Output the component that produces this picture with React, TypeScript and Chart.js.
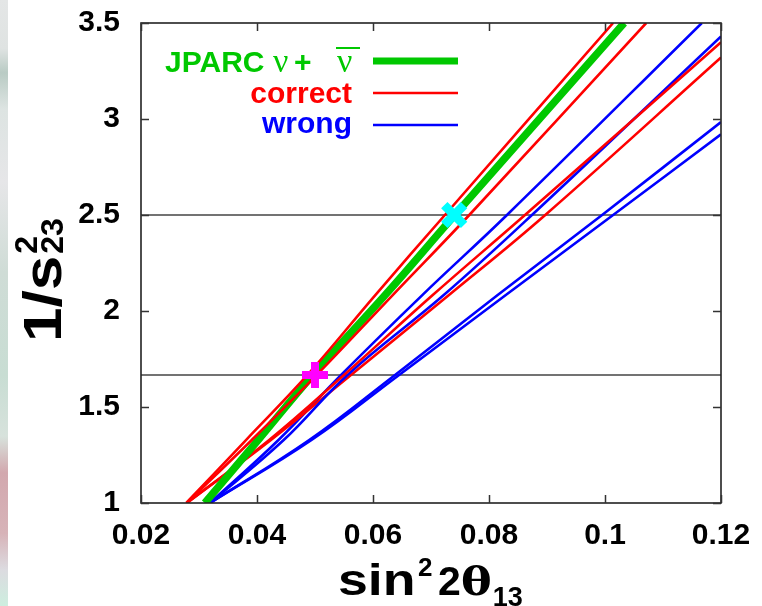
import { useEffect, useRef } from "react";
import { Chart, registerables } from "chart.js";
Chart.register(...registerables);

// ---- axis ticks ----
const xTicks = [0.02, 0.04, 0.06, 0.08, 0.1, 0.12];
const xTickLabels = ["0.02", "0.04", "0.06", "0.08", "0.1", "0.12"];
const yTicks = [1, 1.5, 2, 2.5, 3, 3.5];
const yTickLabels = ["1", "1.5", "2", "2.5", "3", "3.5"];

// ---- JPARC nu + nubar (green, thick) ----
const greenX = [0.031, 0.0402, 0.0496, 0.0621, 0.0741, 0.1033];
const greenY = [1, 1.328, 1.667, 2.083, 2.5, 3.5];

// ---- correct hierarchy (red) ----
const redAX = [0.0278, 0.0381, 0.0487, 0.0604, 0.0724, 0.1014];
const redAY = [1, 1.328, 1.667, 2.083, 2.5, 3.5];
const redBX = [0.0279, 0.0391, 0.0503, 0.0634, 0.0766, 0.1071];
const redBY = [1, 1.328, 1.667, 2.083, 2.5, 3.5];
const redCX = [0.0279, 0.0421, 0.055, 0.0703, 0.0862, 0.12];
const redCY = [1, 1.328, 1.667, 2.083, 2.5, 3.4];
const redDX = [0.0279, 0.0424, 0.0562, 0.0731, 0.0897, 0.12];
const redDY = [1, 1.328, 1.667, 2.083, 2.5, 3.32];

// ---- wrong hierarchy (blue) ----
const blue1X = [0.0319, 0.0437, 0.0545, 0.0685, 0.0831, 0.1167];
const blue1Y = [1, 1.328, 1.667, 2.083, 2.5, 3.5];
const blue2X = [0.0319, 0.0446, 0.0556, 0.0722, 0.0874, 0.12];
const blue2Y = [1, 1.328, 1.667, 2.083, 2.5, 3.43];
const blue3X = [0.0319, 0.049, 0.0638, 0.0815, 0.0995, 0.12];
const blue3Y = [1, 1.328, 1.667, 2.083, 2.5, 2.984];
const blue4X = [0.0319, 0.0494, 0.0645, 0.0829, 0.1014, 0.12];
const blue4Y = [1, 1.328, 1.667, 2.083, 2.5, 2.92];

// ---- reference levels and markers ----
const refLevels = [2.5, 1.667];
const refXRange = [0.02, 0.12];
const magentaPoint = { x: 0.05, y: 1.667 };
const cyanPoint = { x: 0.074, y: 2.5 };

const GREEN = "#00c800";
const RED = "#ff0000";
const BLUE = "#0000ff";
const SANS = '"Liberation Sans", Arial, Helvetica, sans-serif';
const SERIF = '"Liberation Serif", "Times New Roman", serif';
const DSERIF = '"DejaVu Serif", serif';

const pts = (xs: number[], ys: number[]) => xs.map((x, i) => ({ x, y: ys[i] }));

function lineDs(xs: number[], ys: number[], color: string, width: number, order: number) {
  return {
    data: pts(xs, ys),
    showLine: true,
    borderColor: color,
    backgroundColor: color,
    borderWidth: width,
    pointRadius: 0,
    tension: 0.4,
    clip: 0,
    order,
  };
}

function stretchText(ctx: CanvasRenderingContext2D, text: string, x: number, y: number, sx: number) {
  ctx.save();
  ctx.translate(x, y);
  ctx.scale(sx, 1);
  ctx.fillText(text, 0, 0);
  const w = ctx.measureText(text).width * sx;
  ctx.restore();
  return w;
}

const framePlugin = {
  id: "frameAndText",
  afterDatasetsDraw(chart: any) {
    const ctx: CanvasRenderingContext2D = chart.ctx;
    const { left, right, top, bottom } = chart.chartArea;
    const xs = chart.scales.x;
    const ys = chart.scales.y;
    ctx.save();
    // frame
    ctx.strokeStyle = "#222";
    ctx.lineWidth = 1.6;
    ctx.strokeRect(left, top, right - left, bottom - top);
    // inward ticks
    ctx.lineWidth = 1.5;
    ctx.strokeStyle = "#333";
    const tl = 8;
    ctx.beginPath();
    xTicks.forEach((v) => {
      const px = Math.round(xs.getPixelForValue(v)) + 0.5;
      ctx.moveTo(px, bottom);
      ctx.lineTo(px, bottom - tl);
      ctx.moveTo(px, top);
      ctx.lineTo(px, top + tl);
    });
    yTicks.forEach((v) => {
      const py = Math.round(ys.getPixelForValue(v)) + 0.5;
      ctx.moveTo(left, py);
      ctx.lineTo(left + tl, py);
      ctx.moveTo(right, py);
      ctx.lineTo(right - tl, py);
    });
    ctx.stroke();

    // legend
    ctx.textBaseline = "alphabetic";
    ctx.textAlign = "left";
    ctx.fillStyle = GREEN;
    ctx.font = `bold 30px ${SANS}`;
    ctx.fillText("JPARC", 165, 72);
    ctx.font = `34px ${SERIF}`;
    ctx.fillText("\u03bd", 273, 72);
    ctx.font = `bold 30px ${SANS}`;
    ctx.fillText("+", 294, 72);
    ctx.font = `34px ${SERIF}`;
    ctx.fillText("\u03bd", 337, 72);
    ctx.fillRect(336, 47, 24, 2);

    ctx.textAlign = "right";
    ctx.font = `bold 30px ${SANS}`;
    ctx.fillStyle = RED;
    ctx.fillText("correct", 352, 103);
    ctx.fillStyle = BLUE;
    ctx.fillText("wrong", 352, 133);

    ctx.lineCap = "butt";
    ctx.strokeStyle = GREEN;
    ctx.lineWidth = 7;
    ctx.beginPath();
    ctx.moveTo(373, 61);
    ctx.lineTo(458, 61);
    ctx.stroke();
    ctx.strokeStyle = RED;
    ctx.lineWidth = 2.4;
    ctx.beginPath();
    ctx.moveTo(373, 93);
    ctx.lineTo(458, 93);
    ctx.stroke();
    ctx.strokeStyle = BLUE;
    ctx.beginPath();
    ctx.moveTo(373, 125);
    ctx.lineTo(458, 125);
    ctx.stroke();

    // x axis title: sin^2 2θ_13
    ctx.textAlign = "left";
    ctx.fillStyle = "#000";
    ctx.font = `bold 44px ${SANS}`;
    stretchText(ctx, "sin", 338, 595, 1.22);
    ctx.font = `bold 26px ${SANS}`;
    ctx.fillText("2", 418, 576);
    ctx.font = `bold 41px ${SANS}`;
    ctx.fillText("2", 438, 595);
    ctx.font = `bold 40px ${DSERIF}`;
    const tw = stretchText(ctx, "\u03b8", 461, 595, 1.15);
    ctx.font = `bold 27px ${SANS}`;
    ctx.fillText("13", 461 + tw + 1, 606);

    // y axis title: 1/s^2_23
    ctx.save();
    ctx.translate(61, 342);
    ctx.rotate(-Math.PI / 2);
    ctx.font = `bold 54px ${SANS}`;
    const w = stretchText(ctx, "1/s", 0, 0, 1.15);
    ctx.font = `bold 32px ${SANS}`;
    ctx.fillText("2", w + 2, -24);
    ctx.fillText("23", w + 2, 2);
    ctx.restore();

    ctx.restore();
  },
};

export default function App() {
  const ref = useRef<HTMLCanvasElement | null>(null);
  useEffect(() => {
    if (!ref.current) return;
    const datasets: any[] = [
      {
        data: [magentaPoint],
        pointStyle: "cross",
        pointRadius: 13,
        borderWidth: 8,
        borderColor: "#ff00ff",
        backgroundColor: "#ff00ff",
        showLine: false,
        clip: false,
        order: 0,
      },
      {
        data: [cyanPoint],
        pointStyle: "crossRot",
        pointRadius: 14,
        borderWidth: 9,
        borderColor: "#00ffff",
        backgroundColor: "#00ffff",
        showLine: false,
        clip: false,
        order: 1,
      },
      lineDs(redAX, redAY, RED, 2.6, 2),
      lineDs(redBX, redBY, RED, 2.6, 3),
      lineDs(greenX, greenY, GREEN, 7.5, 4),
      lineDs(redCX, redCY, RED, 2.6, 5),
      lineDs(blue2X, blue2Y, BLUE, 2.6, 6),
      lineDs(redDX, redDY, RED, 2.6, 7),
      lineDs(blue1X, blue1Y, BLUE, 2.6, 8),
      lineDs(blue3X, blue3Y, BLUE, 2.6, 9),
      lineDs(blue4X, blue4Y, BLUE, 2.6, 10),
      ...refLevels.map((lv, i) => ({
        data: refXRange.map((x) => ({ x, y: lv })),
        showLine: true,
        borderColor: "#444",
        borderWidth: 1.5,
        pointRadius: 0,
        clip: 0,
        order: 20 + i,
      })),
    ];
    const chart = new Chart(ref.current, {
      type: "scatter",
      data: { datasets },
      options: {
        responsive: false,
        animation: false,
        events: [],
        layout: { padding: { left: 0, top: 23, right: 41, bottom: 0 } },
        plugins: { legend: { display: false }, tooltip: { enabled: false } },
        scales: {
          x: {
            type: "linear",
            min: 0.02,
            max: 0.12,
            afterFit: (s: any) => {
              s.height = 103;
              s.paddingLeft = 0;
              s.paddingRight = 0;
            },
            afterBuildTicks: (s: any) => {
              s.ticks = xTicks.map((v) => ({ value: v }));
            },
            ticks: {
              callback: (_v: any, i: number) => xTickLabels[i],
              font: { family: SANS, size: 30, weight: "bold" },
              color: "#000",
              padding: 15,
              maxRotation: 0,
              autoSkip: false,
            },
            grid: { display: false, drawTicks: false },
            border: { display: false },
          },
          y: {
            type: "linear",
            min: 1,
            max: 3.5,
            afterFit: (s: any) => {
              s.width = 141;
              s.paddingTop = 0;
              s.paddingBottom = 0;
            },
            afterBuildTicks: (s: any) => {
              s.ticks = yTicks.map((v) => ({ value: v }));
            },
            ticks: {
              callback: (_v: any, i: number) => yTickLabels[i],
              font: { family: SANS, size: 30, weight: "bold" },
              color: "#000",
              padding: 21,
              autoSkip: false,
            },
            grid: { display: false, drawTicks: false },
            border: { display: false },
          },
        },
      },
      plugins: [framePlugin],
    });
    return () => chart.destroy();
  }, []);

  return (
    <div style={{ position: "fixed", left: 0, top: 0, width: 762, height: 606, background: "#fff" }}>
      <div
        style={{
          position: "absolute",
          left: 0,
          top: 0,
          width: 8,
          height: 606,
          background:
            "linear-gradient(to bottom, #e4e6e6 0%, #dfe3e2 8%, #b9cbc4 12%, #dde4e2 18%, #e6e6e8 30%, #cfdcd6 45%, #c8ddd3 62%, #d7e2dc 72%, #d2a8ae 78%, #d7b3b8 88%, #dcdbe0 94%, #cdeedf 100%)",
        }}
      />
      <canvas ref={ref} width={762} height={606} style={{ position: "absolute", left: 0, top: 0, width: 762, height: 606 }} />
    </div>
  );
}
